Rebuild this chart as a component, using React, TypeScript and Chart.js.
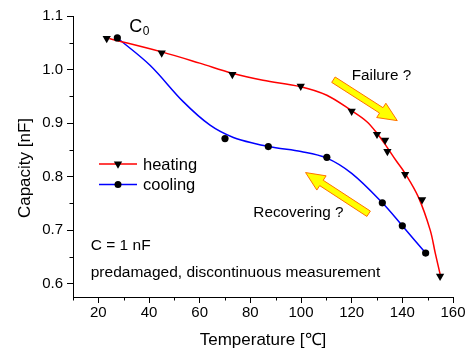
import React, { useEffect, useRef } from 'react';
import { Chart, registerables } from 'chart.js';

Chart.register(...registerables);

// ---- data ----
const heatingT = [23.3, 45.0, 72.9, 99.9, 120.0, 130.0, 133.2, 134.1, 141.1, 147.8, 154.9];
const heatingC = [1.058, 1.031, 0.991, 0.969, 0.922, 0.879, 0.868, 0.847, 0.804, 0.757, 0.614];

const coolingT = [27.5, 70.0, 87.1, 110.2, 132.1, 140.0, 149.2];
const coolingC = [1.059, 0.871, 0.856, 0.836, 0.751, 0.708, 0.657];

// smoothed curves as drawn in the reference
const heatingFitT = [24.3, 45.0, 60.0, 72.9, 85.0, 99.9, 110.2, 120.0, 125.9, 130.0, 133.8, 137.5, 141.1, 146.3, 151.0, 153.0, 155.0];
const heatingFitC = [1.058, 1.033, 1.012, 0.993, 0.98, 0.968, 0.952, 0.923, 0.903, 0.881, 0.856, 0.83, 0.806, 0.762, 0.7, 0.657, 0.616];

const coolingFitT = [27.8, 40.4, 53.5, 64.1, 73.3, 82.5, 90, 100, 110, 120, 132.1, 140.0, 149.2];
const coolingFitC = [1.058, 1.008, 0.94, 0.896, 0.873, 0.861, 0.854, 0.847, 0.835, 0.806, 0.751, 0.708, 0.657];

const xMajorTicks = [20, 40, 60, 80, 100, 120, 140, 160];
const xMinorTicks = [10, 30, 50, 70, 90, 110, 130, 150];
const yMajorTicks = [0.6, 0.7, 0.8, 0.9, 1.0, 1.1];
const yMinorTicks = [0.65, 0.75, 0.85, 0.95, 1.05];

const xLabel = 'Temperature [\u2103]';
const yLabel = 'Capacity [nF]';
const heatingLabel = 'heating';
const coolingLabel = 'cooling';
const failureText = 'Failure ?';
const recoveringText = 'Recovering ?';
const capText = 'C = 1 nF';
const noteText = 'predamaged, discontinuous measurement';

const FONT = '"Liberation Sans", Arial, Helvetica, sans-serif';

const pts = (xs: number[], ys: number[]) => xs.map((x, i) => ({ x, y: ys[i] }));

function drawArrow(ctx: CanvasRenderingContext2D, x1: number, y1: number, x2: number, y2: number) {
  const sh = 3.2, hh = 8.5, hl = 19;
  const dx = x2 - x1, dy = y2 - y1;
  const len = Math.hypot(dx, dy);
  const ux = dx / len, uy = dy / len;
  const nx = -uy, ny = ux;
  const bx = x2 - ux * hl, by = y2 - uy * hl;
  ctx.save();
  ctx.beginPath();
  ctx.moveTo(x1 + nx * sh, y1 + ny * sh);
  ctx.lineTo(bx + nx * sh, by + ny * sh);
  ctx.lineTo(bx + nx * hh, by + ny * hh);
  ctx.lineTo(x2, y2);
  ctx.lineTo(bx - nx * hh, by - ny * hh);
  ctx.lineTo(bx - nx * sh, by - ny * sh);
  ctx.lineTo(x1 - nx * sh, y1 - ny * sh);
  ctx.closePath();
  ctx.fillStyle = '#FFFF00';
  ctx.fill();
  ctx.strokeStyle = '#FF7000';
  ctx.lineWidth = 1;
  ctx.stroke();
  ctx.restore();
}

function downTriangle(ctx: CanvasRenderingContext2D, x: number, y: number, r: number) {
  ctx.beginPath();
  for (let k = 0; k < 3; k++) {
    const a = Math.PI + (k * 2 * Math.PI) / 3;
    const px = x + Math.sin(a) * r;
    const py = y - Math.cos(a) * r;
    if (k === 0) ctx.moveTo(px, py); else ctx.lineTo(px, py);
  }
  ctx.closePath();
  ctx.fill();
}

const overlayPlugin = {
  id: 'overlay',
  afterDraw(chart: any) {
    const { ctx, chartArea, scales } = chart;
    const xs = scales.x, ys = scales.y;
    ctx.save();
    // minor ticks
    ctx.strokeStyle = '#000';
    ctx.lineWidth = 1;
    ctx.beginPath();
    xMinorTicks.forEach((v) => {
      const px = Math.round(xs.getPixelForValue(v)) + 0.5;
      ctx.moveTo(px, chartArea.bottom);
      ctx.lineTo(px, chartArea.bottom + 3.5);
    });
    yMinorTicks.forEach((v) => {
      const py = Math.round(ys.getPixelForValue(v)) + 0.5;
      ctx.moveTo(chartArea.left, py);
      ctx.lineTo(chartArea.left - 3.5, py);
    });
    ctx.stroke();

    ctx.fillStyle = '#000';
    // axis titles
    ctx.font = `17px ${FONT}`;
    ctx.textAlign = 'center';
    ctx.textBaseline = 'alphabetic';
    ctx.fillText(xLabel, (chartArea.left + chartArea.right) / 2, 345);
    ctx.save();
    ctx.translate(30, 168);
    ctx.rotate(-Math.PI / 2);
    ctx.fillText(yLabel, 0, 0);
    ctx.restore();

    // annotations
    ctx.textAlign = 'left';
    ctx.font = `18px ${FONT}`;
    const c0x = xs.getPixelForValue(32.2), c0y = ys.getPixelForValue(1.0707);
    ctx.fillText('C', c0x, c0y);
    const cw = ctx.measureText('C').width;
    ctx.font = `12px ${FONT}`;
    ctx.fillText('0', c0x + cw + 0.5, c0y + 3.5);

    ctx.font = `15.3px ${FONT}`;
    ctx.fillText(failureText, xs.getPixelForValue(120.0), ys.getPixelForValue(0.98));
    ctx.fillText(recoveringText, xs.getPixelForValue(81.2), ys.getPixelForValue(0.7245));
    ctx.font = `15.5px ${FONT}`;
    ctx.fillText(capText, xs.getPixelForValue(17.0), ys.getPixelForValue(0.663));
    ctx.fillText(noteText, xs.getPixelForValue(17.0), ys.getPixelForValue(0.6125));

    // arrows
    drawArrow(ctx, xs.getPixelForValue(112.8), ys.getPixelForValue(0.981), xs.getPixelForValue(138.0), ys.getPixelForValue(0.9045));
    drawArrow(ctx, xs.getPixelForValue(126.7), ys.getPixelForValue(0.7305), xs.getPixelForValue(101.8), ys.getPixelForValue(0.8075));

    // legend
    const lx0 = chartArea.left + 26, lx1 = chartArea.left + 64, tx = chartArea.left + 70;
    const ly1 = chartArea.top + 148, ly2 = chartArea.top + 168.5;
    ctx.lineWidth = 1.5;
    ctx.strokeStyle = '#FF0000';
    ctx.beginPath();
    ctx.moveTo(lx0, ly1); ctx.lineTo(lx1, ly1);
    ctx.stroke();
    ctx.strokeStyle = '#0000FF';
    ctx.beginPath();
    ctx.moveTo(lx0, ly2); ctx.lineTo(lx1, ly2);
    ctx.stroke();
    ctx.fillStyle = '#000';
    downTriangle(ctx, (lx0 + lx1) / 2, ly1, 4.8);
    ctx.beginPath();
    ctx.arc((lx0 + lx1) / 2, ly2, 3.5, 0, Math.PI * 2);
    ctx.fill();
    ctx.font = `16.5px ${FONT}`;
    ctx.textBaseline = 'alphabetic';
    ctx.fillText(heatingLabel, tx, ly1 + 5.5);
    ctx.fillText(coolingLabel, tx, ly2 + 5.5);
    ctx.restore();
  },
};

export default function App() {
  const ref = useRef<HTMLCanvasElement | null>(null);
  useEffect(() => {
    if (!ref.current) return;
    const chart = new Chart(ref.current, {
      type: 'scatter',
      data: {
        datasets: [
          {
            label: heatingLabel + ' markers',
            data: pts(heatingT, heatingC),
            showLine: false,
            pointStyle: 'triangle',
            rotation: 180,
            pointRadius: 4.8,
            pointBackgroundColor: '#000',
            pointBorderColor: '#000',
            pointBorderWidth: 0,
          },
          {
            label: coolingLabel + ' markers',
            data: pts(coolingT, coolingC),
            showLine: false,
            pointStyle: 'circle',
            pointRadius: 3.6,
            pointBackgroundColor: '#000',
            pointBorderColor: '#000',
            pointBorderWidth: 0,
          },
          {
            label: heatingLabel,
            data: pts(heatingFitT, heatingFitC),
            showLine: true,
            borderColor: '#FF0000',
            borderWidth: 1.5,
            pointRadius: 0,
            tension: 0.35,
          },
          {
            label: coolingLabel,
            data: pts(coolingFitT, coolingFitC),
            showLine: true,
            borderColor: '#0000FF',
            borderWidth: 1.5,
            pointRadius: 0,
            tension: 0.35,
          },
        ],
      } as any,
      options: {
        animation: false,
        responsive: false,
        devicePixelRatio: 1,
        events: [],
        layout: { padding: { top: 16, right: 18, left: 0, bottom: 0 } },
        plugins: { legend: { display: false }, tooltip: { enabled: false }, title: { display: false } },
        scales: {
          x: {
            type: 'linear',
            min: 10,
            max: 160,
            afterBuildTicks: (s: any) => { s.ticks = xMajorTicks.map((v) => ({ value: v })); },
            afterFit: (s: any) => { s.height = 52; },
            border: { display: true, color: '#000', width: 1 },
            grid: { drawOnChartArea: false, color: '#000', tickLength: 6, tickWidth: 1 },
            ticks: { color: '#000', font: { family: FONT, size: 15 }, padding: 1, maxRotation: 0, autoSkip: false, callback: (v: any) => String(v) },
            title: { display: false },
          },
          y: {
            type: 'linear',
            min: 0.575,
            max: 1.1,
            afterBuildTicks: (s: any) => { s.ticks = yMajorTicks.map((v) => ({ value: v })); },
            afterFit: (s: any) => { s.width = 73; },
            border: { display: true, color: '#000', width: 1 },
            grid: { drawOnChartArea: false, color: '#000', tickLength: 6, tickWidth: 1 },
            ticks: { color: '#000', font: { family: FONT, size: 15 }, padding: 4, autoSkip: false, callback: (v: any) => Number(v).toFixed(1) },
            title: { display: false },
          },
        },
      } as any,
      plugins: [overlayPlugin],
    });
    return () => chart.destroy();
  }, []);
  return (
    <div style={{ position: 'absolute', left: 0, top: 0, width: 471, height: 349, background: '#fff' }}>
      <canvas ref={ref} width={471} height={349} style={{ display: 'block' }} />
    </div>
  );
}
